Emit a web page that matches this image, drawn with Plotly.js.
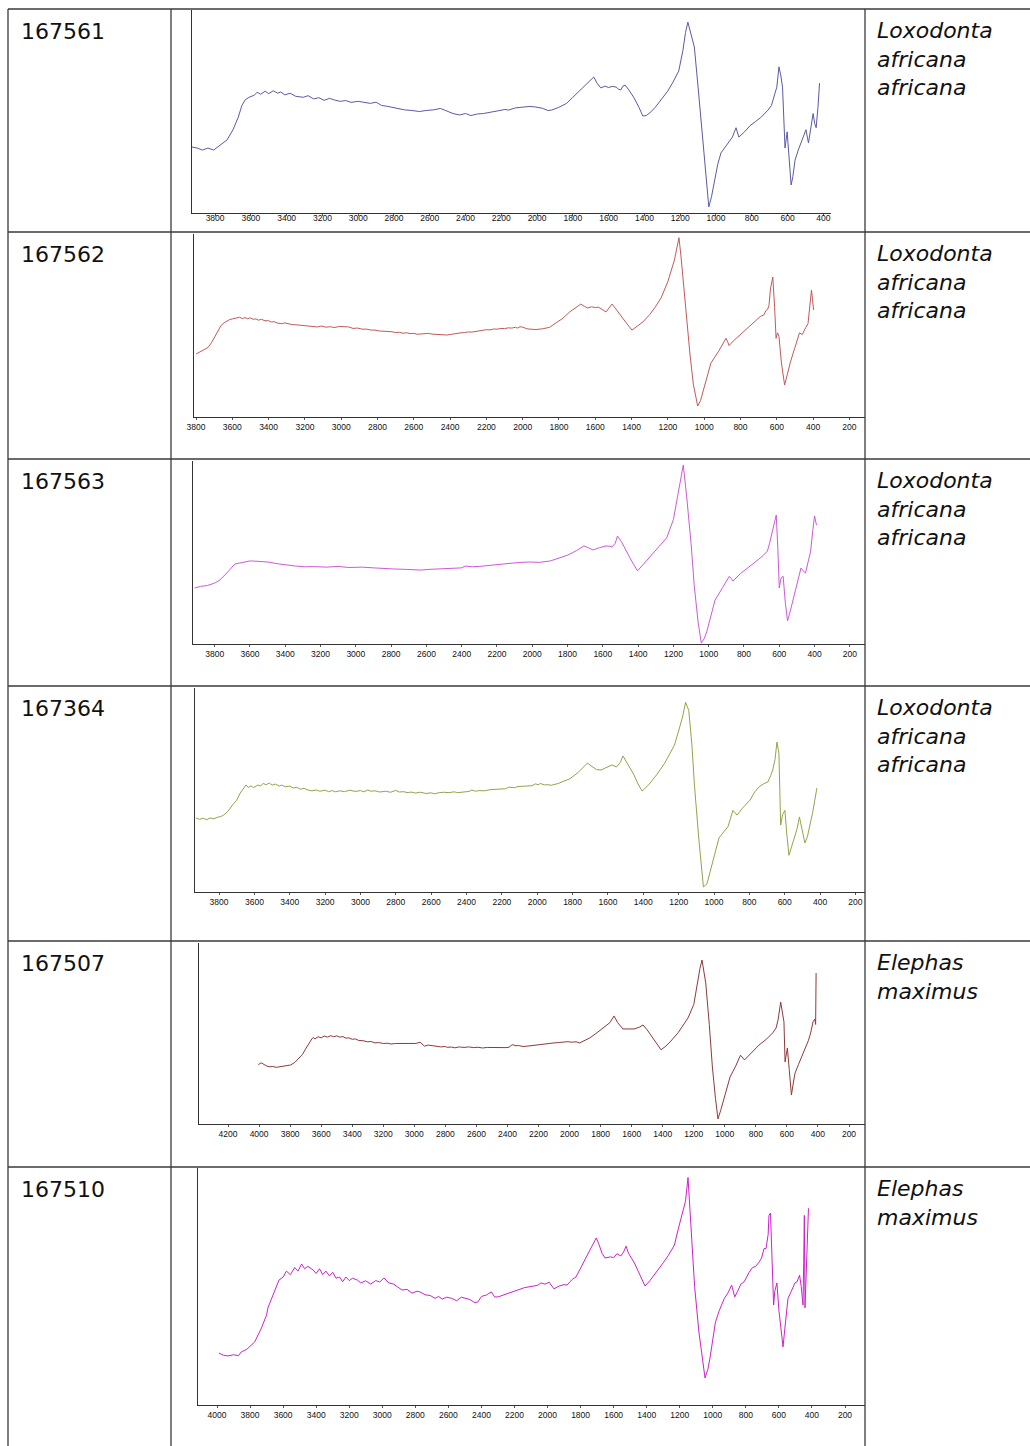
<!DOCTYPE html>
<html>
<head>
<meta charset="utf-8">
<script src="https://cdn.plot.ly/plotly-3.0.1.min.js"></script>
<style>html,body{margin:0;padding:0;background:#fff;}#chart{width:1030px;height:1446px;}</style>
</head>
<body>
<div id="chart"></div>
<script>
// ---------- DATA ----------
const sampleIds = ["167561", "167562", "167563", "167364", "167507", "167510"];
const species = ["Loxodonta africana africana", "Loxodonta africana africana", "Loxodonta africana africana",
                 "Loxodonta africana africana", "Elephas maximus", "Elephas maximus"];

// spectra: [wavenumber (cm-1), relative signal (0-100)]
const spec1 = [[3929,32.5],[3900,32],[3870,31],[3840,32],[3808,31],[3780,33],[3755,34.5],[3733,36],[3700,41],[3671,47],[3650,53],[3632,55.7],[3610,57],[3581,58],[3565,59.5],[3545,58.5],[3520,60],[3500,58.8],[3475,60.2],[3450,59],[3433,59.6],[3410,58.2],[3380,59],[3350,57.5],[3307,57],[3280,57.8],[3250,56.2],[3220,56.8],[3190,55.5],[3160,56.5],[3134,55.7],[3100,55],[3070,55.4],[3040,54.5],[3000,55],[2960,54.2],[2932,54],[2900,54.6],[2870,53],[2840,52.6],[2809,52],[2780,51.5],[2740,50.8],[2700,50.5],[2658,50],[2620,50.5],[2580,50.8],[2540,51.5],[2507,50.2],[2470,49],[2434,48.3],[2400,49],[2370,48],[2333,48.8],[2300,49],[2260,49.8],[2220,50.3],[2180,51],[2159,50.7],[2120,51.8],[2080,52],[2040,52.5],[2008,52.2],[1970,51.6],[1940,50.5],[1919,50.7],[1880,52],[1835,54],[1800,57],[1756,60.6],[1720,63.5],[1683,67],[1665,64],[1644,61.6],[1620,62.5],[1600,61.8],[1580,62.4],[1558,62],[1545,61],[1532,60.6],[1520,62.5],[1508,63],[1490,61],[1460,57],[1430,52],[1409,47.8],[1390,48],[1370,49.3],[1340,52],[1308,55.7],[1270,60],[1240,64.5],[1208,70],[1185,80],[1170,89],[1157,94],[1140,88],[1121,81.8],[1100,62],[1070,31],[1050,12],[1040,3],[1025,8],[1008,16],[990,24],[972,29.6],[940,33.5],[908,37.4],[888,42],[872,37.4],[840,40],[810,43],[780,45],[750,47],[709,50.7],[690,53],[670,59],[660,62],[648,72],[638,68],[628,62],[614,32],[602,40],[590,25],[580,13.8],[570,18],[558,26],[540,31],[519,36],[497,41],[483,34.5],[470,41],[457,49],[448,44],[440,42],[430,52],[421,64]];

const spec2 = [[3800,34.4],[3785,35.2],[3770,36],[3750,37],[3734,38],[3715,40.5],[3700,43],[3680,46.5],[3662,50],[3645,51.5],[3630,52.5],[3615,53.2],[3599,53.6],[3580,54],[3560,54.5],[3545,53.8],[3530,54.3],[3515,53.7],[3502,54.2],[3485,53.4],[3470,53.6],[3455,52.9],[3440,53.4],[3420,52.6],[3400,52.6],[3385,51.9],[3370,52.1],[3350,51.3],[3328,51],[3310,51.4],[3290,50.9],[3270,50.5],[3250,50.4],[3225,50.1],[3200,50],[3175,49.4],[3155,49.5],[3130,49.2],[3110,49.7],[3085,49.1],[3060,49.3],[3035,48.9],[3010,49.5],[2985,49.3],[2959,49.2],[2935,48.4],[2910,48.6],[2885,48],[2860,48],[2835,47.5],[2814,47.5],[2790,47],[2770,46.9],[2745,46.5],[2720,46.6],[2700,46.1],[2680,46.3],[2660,45.8],[2640,46],[2620,45.6],[2600,45.7],[2580,45.2],[2560,45.4],[2540,45.8],[2520,45.7],[2500,45.3],[2480,45.2],[2460,44.8],[2440,44.6],[2418,44.8],[2400,45.1],[2380,45.5],[2360,45.7],[2340,46],[2320,46.1],[2300,46.5],[2280,46.4],[2260,46.8],[2240,47.2],[2221,47.3],[2200,47.7],[2180,47.6],[2160,48.1],[2140,48],[2120,48.4],[2100,48.3],[2080,48.7],[2060,48.6],[2040,49],[2030,48.6],[2015,49.3],[2000,49.1],[1980,48.3],[1960,48],[1927,47.8],[1890,48.2],[1852,49],[1815,51.5],[1778,54],[1740,57.5],[1700,60.5],[1680,61.7],[1660,60.5],[1643,59.6],[1620,60.2],[1600,59.8],[1582,60],[1560,58.5],[1541,57.4],[1525,59.5],[1508,61.7],[1490,59.5],[1459,55.7],[1430,51.5],[1398,47.5],[1370,49.5],[1337,52],[1300,56],[1270,60],[1238,65],[1200,74],[1164,85.8],[1150,92],[1139,98],[1128,88],[1117,75],[1100,55],[1079,35],[1060,18],[1036,6],[1020,9],[1004,14.8],[985,22],[963,29.5],[920,36],[880,43],[870,41],[863,39],[840,41.5],[800,45],[748,50],[710,53],[690,55],[672,55.7],[660,58],[650,59],[643,61],[635,70],[622,76.5],[612,60],[604,43],[596,46],[588,44],[575,30],[557,17.5],[540,24],[525,30],[500,38],[475,46],[460,45],[450,47.5],[440,49],[428,51],[420,58],[409,69.4],[403,64],[397,58.5]];

const spec3 = [[3914,30.6],[3880,31.5],[3840,32],[3800,33.3],[3770,35],[3749,37],[3720,40],[3686,43.7],[3650,44.5],[3599,45.4],[3560,45.2],[3497,44.8],[3440,43.8],[3400,43.2],[3343,42.6],[3290,42.2],[3240,42.3],[3167,42],[3100,42.4],[3040,41.8],[2963,42],[2900,41.6],[2850,41.2],[2786,41],[2720,40.8],[2680,40.6],[2634,40.4],[2580,40.8],[2530,41],[2480,41.2],[2430,41.5],[2400,41.6],[2380,42.6],[2340,42.2],[2300,42.4],[2278,42.6],[2230,43.4],[2180,43.8],[2127,44.3],[2070,44.6],[2014,44.8],[1960,44.6],[1897,45.4],[1850,46.8],[1798,48.6],[1750,51],[1707,53.6],[1680,52.5],[1656,51.4],[1620,52.6],[1582,53.6],[1560,53.4],[1548,53],[1530,55],[1517,59],[1495,56],[1468,50.8],[1435,45],[1403,40],[1370,43.5],[1339,47],[1290,52],[1238,58],[1200,68],[1174,81.4],[1160,90],[1144,97.8],[1124,79.8],[1100,55],[1082,32],[1060,12],[1042,0.5],[1025,3],[1010,7],[990,15],[964,24],[920,31],[883,37],[870,35.5],[862,34.4],[820,38.5],[758,43],[720,46],[690,48.5],[667,50.8],[655,55],[642,60.6],[630,66],[617,70.5],[608,52],[600,30.6],[590,36],[578,37],[565,22],[553,12.6],[535,19],[515,26.8],[495,34],[477,41.5],[465,40],[451,38.8],[436,45],[422,50.8],[410,62],[400,70],[389,65]];

const spec4 = [[3930,36.3],[3910,35.6],[3890,36.2],[3870,35.4],[3851,36.3],[3830,35.9],[3810,36.6],[3790,37],[3774,37.7],[3750,39.5],[3724,42.6],[3700,45],[3680,48.5],[3660,51],[3647,52.5],[3635,51.2],[3620,52],[3605,51.2],[3596,51.8],[3580,52.4],[3565,52],[3550,53.2],[3534,52.6],[3515,53.4],[3500,52.4],[3480,52.9],[3460,51.9],[3446,52.4],[3425,51.6],[3400,51.9],[3380,51],[3360,51.3],[3340,50.4],[3320,50.8],[3297,50],[3275,49.6],[3250,50],[3230,49.4],[3200,49.9],[3180,49.2],[3160,49.7],[3140,49.1],[3118,49.6],[3090,49.2],[3060,49.9],[3030,49.3],[3000,49.7],[2980,49.1],[2960,50],[2940,49.4],[2918,49.6],[2890,49],[2860,49.4],[2830,48.9],[2800,49.8],[2780,49],[2760,49.2],[2730,48.7],[2714,49],[2690,48.5],[2660,48.9],[2630,48.3],[2600,48.6],[2580,48.1],[2561,48.6],[2530,48.9],[2500,48.7],[2470,49.1],[2450,48.7],[2420,49],[2386,49.3],[2370,50],[2350,49.4],[2330,49.7],[2300,49.6],[2262,50.2],[2230,50.4],[2200,50.8],[2180,50.6],[2160,51.4],[2130,51.1],[2109,51.7],[2080,51.9],[2050,52.3],[2030,52.1],[2010,53],[1995,52.6],[1982,53.2],[1960,52.5],[1940,52.6],[1920,52.3],[1905,52.7],[1880,53.2],[1860,54],[1817,55.4],[1770,58.5],[1716,63.2],[1690,61.5],[1665,60],[1639,59.8],[1610,61],[1577,62.3],[1552,61.3],[1530,63.5],[1515,66.7],[1490,63],[1453,57.4],[1430,53],[1407,49.5],[1370,52.5],[1325,57.4],[1280,63],[1224,72],[1200,79],[1178,85.8],[1161,93],[1143,89],[1125,72],[1111,52.5],[1085,25],[1060,2.5],[1040,4],[1023,9.8],[1000,18],[972,26.5],[945,29.5],[921,32],[893,40],[870,37.7],[840,41],[797,45],[770,49],[746,51.5],[720,53],[695,54],[680,57],[668,59.8],[655,65],[644,73.5],[633,68],[623,32.8],[612,38],[599,40],[588,28],[576,18],[562,22],[548,26.5],[530,31],[517,36.8],[500,30],[486,24],[472,27],[459,32],[442,39],[430,45],[418,51]];

const spec5 = [[4004,32.6],[3995,33.5],[3984,33.7],[3970,32.8],[3950,32],[3930,31.6],[3912,31.8],[3890,31.3],[3860,31.8],[3830,32],[3797,32.6],[3770,34],[3740,36.5],[3720,38.5],[3700,41.5],[3680,44.5],[3660,47],[3652,47.8],[3640,47],[3620,48.2],[3600,47.6],[3580,48.6],[3560,48],[3538,48.8],[3520,48.2],[3500,48.7],[3480,48],[3460,48.3],[3440,47.4],[3423,47.6],[3400,46.8],[3380,47],[3360,46.2],[3330,46],[3300,45.4],[3280,45.6],[3253,44.8],[3230,45],[3200,44.5],[3170,44.6],[3150,44.2],[3120,44.5],[3079,44.6],[3050,44.3],[3020,44.4],[2990,44.5],[2963,45.2],[2950,44.2],[2934,43],[2910,43.6],[2880,43.3],[2850,43],[2830,42.6],[2800,42.8],[2791,42.4],[2760,42.5],[2740,42.1],[2710,42.6],[2680,42.3],[2650,42.6],[2620,42.2],[2590,42.4],[2561,42],[2530,42.3],[2500,42.2],[2470,42.4],[2440,42],[2410,42.2],[2390,42.4],[2370,43.8],[2359,43.6],[2345,43.2],[2330,43.4],[2300,42.8],[2274,43],[2250,43.3],[2220,43.6],[2190,43.9],[2160,44.2],[2130,44.4],[2100,44.8],[2070,45],[2040,45.2],[2010,45.5],[1990,45.2],[1958,45.4],[1935,44.8],[1910,45.8],[1890,46.4],[1871,47.5],[1830,50],[1772,53.6],[1740,56],[1714,59.7],[1690,56],[1656,52.5],[1620,52.5],[1585,52.5],[1550,53.5],[1527,54.7],[1500,52],[1469,48],[1440,44],[1411,41],[1380,43],[1353,45.3],[1300,50.5],[1237,58.6],[1200,66],[1179,76.8],[1160,86],[1147,90.6],[1123,78],[1100,55],[1080,31.5],[1060,14],[1044,2.8],[1025,8],[1008,13.3],[966,26],[930,32],[899,38],[873,35.4],[840,38.5],[780,43.6],[730,47],[692,50.3],[670,53],[657,57.5],[640,67.4],[628,62],[619,56.4],[612,34.3],[605,38],[597,42],[585,30],[571,16],[560,22],[548,28],[525,33],[505,37],[477,42.5],[462,46],[447,50.3],[432,56.4],[420,58],[415,55],[412,83.4]];

const spec6 = [[3988,21.9],[3960,21],[3934,20.7],[3900,21.2],[3870,20.8],[3853,22.4],[3820,23.5],[3772,26.6],[3731,32.5],[3700,38],[3692,41],[3658,47.3],[3640,50],[3625,52.7],[3600,54],[3580,56.5],[3556,55],[3530,58],[3510,56.5],[3488,59.5],[3470,57.5],[3450,58.5],[3419,57],[3400,55.5],[3380,57.5],[3360,55],[3341,56.5],[3320,54.5],[3300,56],[3280,53.5],[3258,54],[3240,52],[3220,54],[3200,52.5],[3180,53.5],[3150,52.7],[3130,51.5],[3100,52.4],[3070,51],[3040,52.5],[3015,51.9],[2990,53.6],[2960,51.5],[2930,51],[2907,49.8],[2880,48.5],[2850,48.8],[2820,47.2],[2790,48],[2772,47.7],[2740,46.5],[2710,46.2],[2680,45],[2660,45.8],[2637,44.7],[2610,45.5],[2580,45],[2550,44],[2521,45.5],[2502,45.1],[2470,44.5],[2440,43.2],[2421,43.5],[2400,45.8],[2370,46.4],[2340,47.7],[2320,45.6],[2300,45.6],[2260,46.5],[2220,47.6],[2179,48.5],[2140,49.5],[2100,50],[2060,50.5],[2040,51.5],[2015,51],[1990,51.8],[1961,49],[1930,50.2],[1900,50.8],[1882,50.6],[1850,53],[1828,54],[1790,59],[1759,63.3],[1730,67],[1705,70.5],[1690,68],[1670,64],[1652,62],[1620,62.5],[1600,62.2],[1580,63.8],[1556,62.9],[1540,64.5],[1525,67],[1510,64],[1477,60.3],[1440,55],[1410,50.2],[1380,52.5],[1340,56],[1300,60],[1270,63],[1232,67.5],[1210,74],[1178,83],[1165,86],[1150,96],[1140,85],[1130,73],[1110,50],[1084,30.8],[1060,18],[1047,11.4],[1030,15],[1017,19.8],[984,35],[960,40],[930,45],[908,47.3],[886,50.6],[867,45.6],[850,48],[830,51],[810,52],[799,53.6],[780,56],[760,58],[740,58.5],[720,60.3],[705,62],[690,66],[678,66],[665,72],[660,80],[651,81],[640,60],[632,42.2],[625,48],[612,51.5],[600,40],[585,32],[575,24.5],[560,35],[545,45],[525,48],[503,51.5],[490,52],[475,54.8],[465,50],[454,42.2],[450,60],[446,80],[442,41],[436,55],[430,72],[421,83]];

const spectra = [spec1, spec2, spec3, spec4, spec5, spec6];

// ---------- STYLE / GEOMETRY ----------
const W = 1030, H = 1446;
const lineColors = ["#5a5aa6", "#c25a58", "#cc5ad6", "#97a24a", "#8e3a3a", "#cc22cc"];
// plot boxes in pixels: [left, right, top, bottom] and axis ranges (high -> low)
const boxes = [
  {l:192, r:831, t:10,   b:213,  range:[3929, 357], standoff:-5},
  {l:194, r:865, t:234,  b:417,  range:[3811, 114], standoff:0},
  {l:193, r:865, t:461,  b:644,  range:[3923, 114], standoff:0},
  {l:195, r:865, t:688,  b:892,  range:[3936, 146], standoff:0},
  {l:199, r:865, t:943,  b:1124, range:[4387, 97],  standoff:0},
  {l:198, r:865, t:1168, b:1405, range:[4115, 79],  standoff:0}
];
const rowTops = [9, 232, 459, 686, 941, 1167];

const px = v => v / W;
const py = v => 1 - v / H;

const traces = [];
const layout = {
  width: W, height: H,
  margin: {l:0, r:0, t:0, b:0},
  paper_bgcolor: "#fff", plot_bgcolor: "#fff",
  showlegend: false,
  shapes: [], annotations: []
};

spectra.forEach((s, i) => {
  const n = i + 1;
  const xa = "x" + (n === 1 ? "" : n), ya = "y" + (n === 1 ? "" : n);
  traces.push({
    type: "scatter", mode: "lines",
    x: s.map(p => p[0]), y: s.map(p => p[1]),
    xaxis: xa, yaxis: ya,
    line: {color: lineColors[i], width: 1},
    hoverinfo: "skip"
  });
  const b = boxes[i];
  const xax = {
    domain: [px(b.l), px(b.r)], anchor: ya,
    range: b.range, tick0: 0, dtick: 200,
    showline: true, linecolor: "#333", linewidth: 1,
    ticks: "outside", ticklen: 2, tickcolor: "#555",
    tickfont: {family: "Liberation Sans", size: 8.5, color: "#111"},
    showgrid: false, zeroline: false, fixedrange: true
  };
  if (b.standoff) xax.ticklabelstandoff = b.standoff;
  layout["xaxis" + (n === 1 ? "" : n)] = xax;
  layout["yaxis" + (n === 1 ? "" : n)] = {
    domain: [py(b.b), py(b.t)], anchor: xa,
    range: [0, 100],
    showline: true, linecolor: "#333", linewidth: 1,
    showticklabels: false, ticks: "",
    showgrid: false, zeroline: false, fixedrange: true
  };
  // sample id
  layout.annotations.push({
    xref: "paper", yref: "paper", x: px(19), y: py(rowTops[i] + 8),
    xanchor: "left", yanchor: "top", showarrow: false,
    text: sampleIds[i],
    font: {family: "DejaVu Sans", size: 22, color: "#111"}
  });
  // species
  layout.annotations.push({
    xref: "paper", yref: "paper", x: px(875), y: py(rowTops[i] + 7),
    xanchor: "left", yanchor: "top", align: "left", showarrow: false,
    text: "<i>" + species[i].split(" ").join("<br>") + "</i>",
    font: {family: "DejaVu Sans", size: 22, color: "#111"}
  });
});

// table grid
const gridLine = (x0, y0, x1, y1) => ({
  type: "line", xref: "paper", yref: "paper",
  x0: px(x0), y0: py(y0), x1: px(x1), y1: py(y1),
  line: {color: "#3a3a3a", width: 1.3}, layer: "above"
});
rowTops.forEach(y => layout.shapes.push(gridLine(8, y, 1030, y)));
[8, 171, 865].forEach(x => layout.shapes.push(gridLine(x, 9, x, 1446)));

Plotly.newPlot("chart", traces, layout, {staticPlot: true, displayModeBar: false});
</script>
</body>
</html>
